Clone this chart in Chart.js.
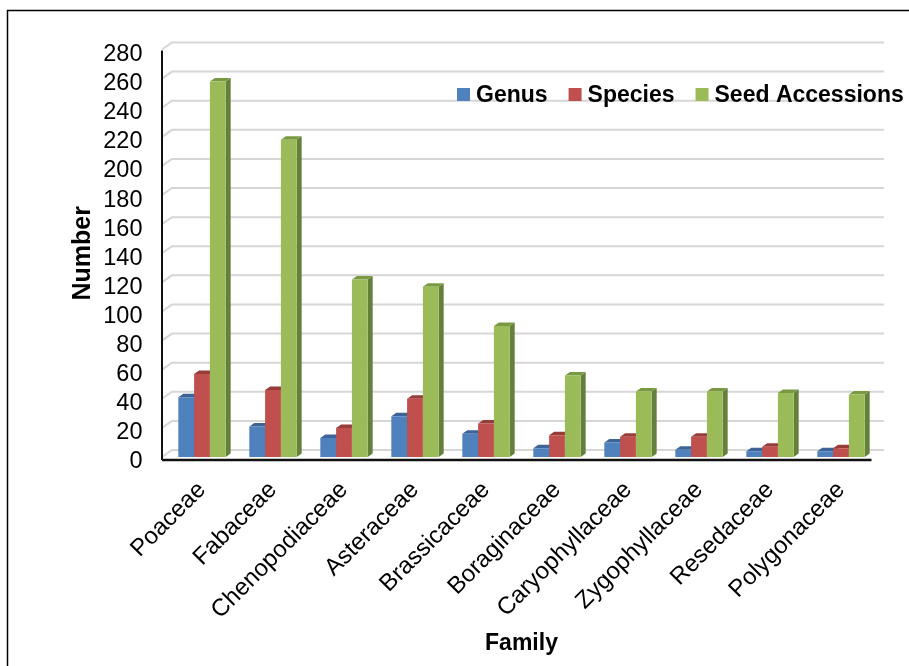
<!DOCTYPE html>
<html>
<head>
<meta charset="utf-8">
<title>Plant families: genera, species and seed accessions</title>
<script src="https://cdn.jsdelivr.net/npm/chart.js@4.4.1/dist/chart.umd.min.js"></script>
<style>
  html, body { margin: 0; padding: 0; background: #ffffff; }
  canvas { display: block; }
</style>
</head>
<body>
<canvas id="familyChart" width="909" height="666"></canvas>
<script>
// ---- data ----
const families = ['Poaceae', 'Fabaceae', 'Chenopodiaceae', 'Asteraceae', 'Brassicaceae',
  'Boraginaceae', 'Caryophyllaceae', 'Zygophyllaceae', 'Resedaceae', 'Polygonaceae'];
const genus = [41, 21, 13, 28, 16, 6, 10, 5, 4, 4];
const species = [57, 46, 20, 40, 23, 15, 14, 14, 7, 6];
const seedAccessions = [258, 218, 122, 117, 90, 56, 45, 45, 44, 43];
const seriesNames = ['Genus', 'Species', 'Seed Accessions'];
const yMin = 0, yMax = 280, yStep = 20;

// ---- styling ----
const FONT = '"Liberation Sans", Arial, Helvetica, sans-serif';
const frontColors = ['#4F81BD', '#C0504D', '#9BBB59'];
const topColors   = ['#3C6496', '#983C3A', '#7A9A42'];
const sideColors  = ['#2F5180', '#7E302E', '#64803A'];
const BAR_DEPTH = { dx: 5, dy: 3.5 };   // extrusion of each column
const WALL_DEPTH = { dx: 10, dy: 7 };   // offset of the back wall
const WALL_RIGHT = 884;

// outer frame line (top and left)
const framePlugin = {
  id: 'frame',
  beforeDraw(chart) {
    const ctx = chart.ctx;
    ctx.save();
    ctx.fillStyle = '#ffffff';
    ctx.fillRect(0, 0, chart.width, chart.height);
    ctx.strokeStyle = '#000000';
    ctx.lineWidth = 1.5;
    ctx.beginPath();
    ctx.moveTo(7.5, chart.height);
    ctx.lineTo(7.5, 10.5);
    ctx.lineTo(chart.width, 10.5);
    ctx.stroke();
    ctx.restore();
  }
};

// back-wall gridlines and 3D column faces
const depthPlugin = {
  id: 'depth3d',
  beforeDatasetsDraw(chart) {
    const ctx = chart.ctx;
    const area = chart.chartArea;
    const yScale = chart.scales.y;
    const axisX = area.left - 4.5;
    ctx.save();
    // gridlines: short slant from the axis, then along the back wall
    ctx.strokeStyle = '#D6D6D6';
    ctx.lineWidth = 2;
    yScale.ticks.forEach(t => {
      const yf = yScale.getPixelForValue(t.value);
      ctx.beginPath();
      ctx.moveTo(axisX, yf);
      ctx.lineTo(axisX + WALL_DEPTH.dx, yf - WALL_DEPTH.dy);
      ctx.lineTo(WALL_RIGHT, yf - WALL_DEPTH.dy);
      ctx.stroke();
    });
    // side and top faces of each column
    chart.data.datasets.forEach((ds, di) => {
      const meta = chart.getDatasetMeta(di);
      meta.data.forEach(bar => {
        const p = bar.getProps(['x', 'y', 'base', 'width'], true);
        const l = p.x - p.width / 2, r = p.x + p.width / 2;
        const { dx, dy } = BAR_DEPTH;
        ctx.fillStyle = sideColors[di];
        ctx.beginPath();
        ctx.moveTo(r, p.y);
        ctx.lineTo(r + dx, p.y - dy);
        ctx.lineTo(r + dx, p.base - dy);
        ctx.lineTo(r, p.base);
        ctx.closePath();
        ctx.fill();
        ctx.fillStyle = topColors[di];
        ctx.beginPath();
        ctx.moveTo(l, p.y);
        ctx.lineTo(l + dx, p.y - dy);
        ctx.lineTo(r + dx, p.y - dy);
        ctx.lineTo(r, p.y);
        ctx.closePath();
        ctx.fill();
      });
    });
    ctx.restore();
  },
  afterDatasetsDraw(chart) {
    const ctx = chart.ctx;
    const area = chart.chartArea;
    const axisX = area.left - 4.5;
    const axisY = area.bottom + 3;
    ctx.save();
    ctx.strokeStyle = '#111111';
    ctx.lineWidth = 2;
    ctx.beginPath();
    ctx.moveTo(axisX, area.top + 1);
    ctx.lineTo(axisX, axisY);
    ctx.stroke();
    ctx.lineWidth = 2.5;
    ctx.beginPath();
    ctx.moveTo(axisX, axisY);
    ctx.lineTo(area.right - 5, axisY);
    ctx.stroke();
    ctx.restore();
  }
};

// horizontal legend placed inside the plot, upper right
const insideLegendPlugin = {
  id: 'insideLegend',
  afterDraw(chart) {
    const ctx = chart.ctx;
    ctx.save();
    ctx.font = 'bold 23px ' + FONT;
    ctx.textBaseline = 'middle';
    ctx.textAlign = 'left';
    let x = 457;
    const yMid = 94.5, box = 13;
    chart.data.datasets.forEach(ds => {
      ctx.fillStyle = ds.backgroundColor;
      ctx.fillRect(x, yMid - box / 2, box, box);
      x += box + 6;
      ctx.fillStyle = '#000000';
      ctx.fillText(ds.label, x, yMid + 1);
      x += ctx.measureText(ds.label).width + 21;
    });
    ctx.restore();
  }
};

const seriesValues = [genus, species, seedAccessions];

new Chart(document.getElementById('familyChart'), {
  type: 'bar',
  data: {
    labels: families,
    datasets: seriesNames.map((name, i) => ({
      label: name,
      data: seriesValues[i],
      backgroundColor: frontColors[i],
      borderWidth: 0,
      categoryPercentage: 0.667,
      barPercentage: 1.0
    }))
  },
  options: {
    responsive: false,
    devicePixelRatio: 1,
    animation: false,
    layout: { padding: { top: 49.5, right: 32.5, left: 0, bottom: 0 } },
    plugins: {
      legend: { display: false },
      tooltip: { enabled: false }
    },
    scales: {
      x: {
        grid: { display: false },
        border: { display: false },
        ticks: {
          autoSkip: false,
          maxRotation: 45,
          minRotation: 45,
          padding: 11,
          color: '#000000',
          font: { family: FONT, size: 24 }
        },
        title: {
          display: true,
          text: 'Family',
          color: '#000000',
          font: { family: FONT, size: 23, weight: 'bold' },
          padding: { top: 0, bottom: 9 }
        },
        afterFit(scale) { scale.height = 209; }
      },
      y: {
        min: yMin,
        max: yMax,
        grid: { display: false, drawTicks: false },
        border: { display: false },
        ticks: {
          autoSkip: false,
          stepSize: yStep,
          padding: 24,
          labelOffset: 5,
          color: '#000000',
          font: { family: FONT, size: 23.5 }
        },
        title: {
          display: true,
          text: 'Number',
          color: '#000000',
          font: { family: FONT, size: 25, weight: 'bold' },
          padding: { top: 68, bottom: 0 }
        },
        afterFit(scale) { scale.width = 166.5; }
      }
    }
  },
  plugins: [framePlugin, depthPlugin, insideLegendPlugin]
});
</script>
</body>
</html>
